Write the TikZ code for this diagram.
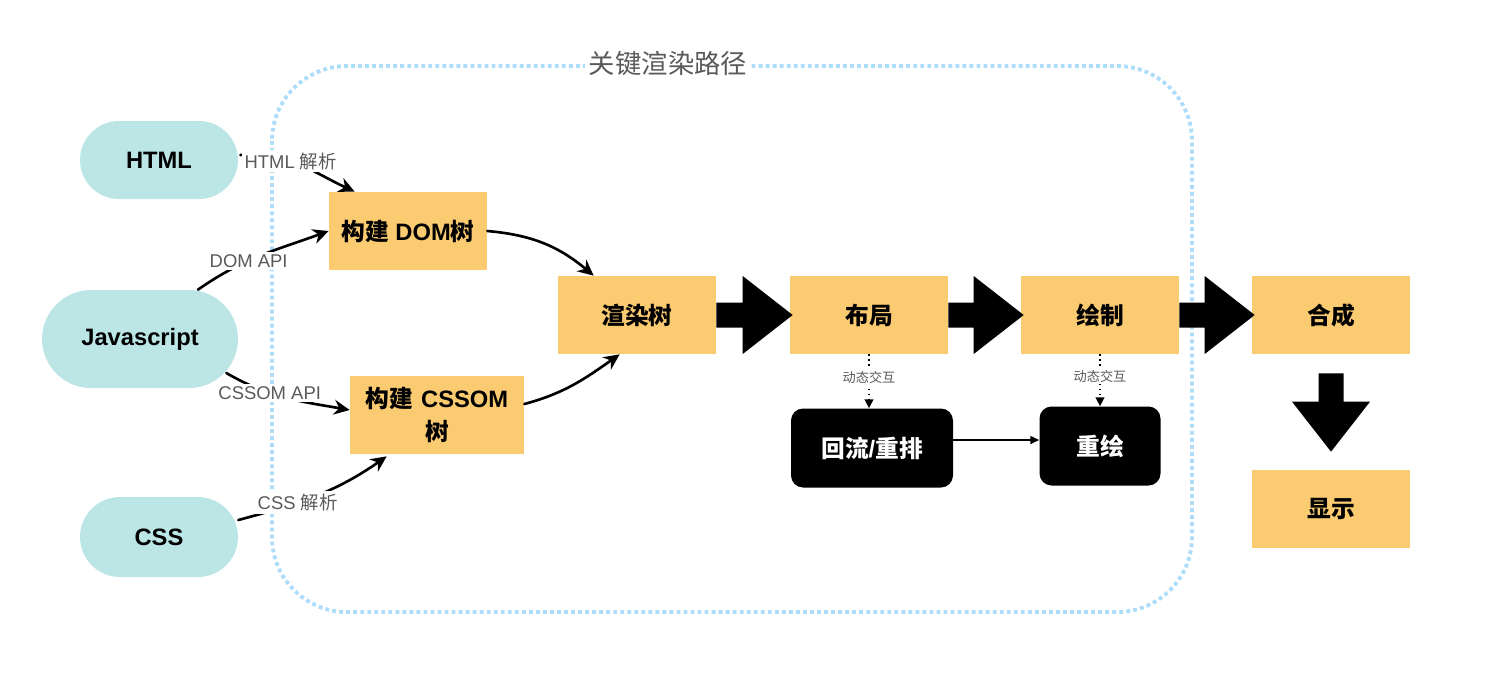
\documentclass[tikz,border=0pt]{standalone}
\usepackage{fontspec}
\setmainfont{Liberation Sans}
\newfontfamily\cjk{Noto Sans CJK SC}
\definecolor{srcteal}{RGB}{188, 230, 230}
\definecolor{stepyellow}{RGB}{251, 203, 113}
\definecolor{pathblue}{RGB}{173, 221, 251}
\definecolor{labelgray}{RGB}{90, 90, 90}
\usetikzlibrary{arrows.meta, positioning, calc, shapes.misc}

\newcommand{\blockarrow}[2]{%
  \fill ($(#1.east)+(0,12.5)$) -- ($(#2.west)+(-47,12.5)$) -- ($(#2.west)+(-47,39)$)
    -- ($(#2.west)+(3,0)$) -- ($(#2.west)+(-47,-39)$) -- ($(#2.west)+(-47,-12.5)$)
    -- ($(#1.east)+(0,-12.5)$) -- cycle;}

\begin{document}
\begin{tikzpicture}[x=0.02cm, y=0.02cm,
  srcnode/.style={rounded rectangle, fill=srcteal, inner sep=0pt, font=\fontsize{13.5}{16}\selectfont\bfseries},
  stepbox/.style={rectangle, fill=stepyellow, minimum width=3.16cm, minimum height=1.56cm, inner sep=2pt, align=center, font=\fontsize{13.5}{19}\selectfont\bfseries},
  darkbox/.style={rectangle, fill=black, text=white, rounded corners=0.24cm, minimum height=1.58cm, font=\fontsize{13.5}{16}\selectfont\bfseries},
  sketch/.style={line width=1.5pt, line cap=round, -{Stealth[length=9pt, width=8.5pt]}},
  edgelabel/.style={fill=white, text=labelgray, inner sep=1.5pt, font=\fontsize{10.5}{12}\selectfont},
  hintlabel/.style={fill=white, text=labelgray, inner sep=1pt, font=\fontsize{7.5}{9}\selectfont\cjk},
  hint/.style={dotted, line width=0.8pt, -{Triangle[length=5pt, width=5pt]}}]
  \useasboundingbox (0,0) rectangle (1496,-684);

  % critical rendering path frame
  \draw[pathblue, line width=2.2pt, dash pattern=on 2.2pt off 1.8pt, rounded corners=1.5cm] (272,-66) rectangle (1192,-612);
  \node[fill=white, text=labelgray, inner sep=2pt, font=\fontsize{15}{17}\selectfont\cjk] (crp) at (668,-64) {关键渲染路径};

  % sources
  \node[srcnode, minimum width=3.16cm, minimum height=1.56cm] (html) at (159,-160) {HTML};
  \node[srcnode, minimum width=3.92cm, minimum height=1.96cm] (js) at (140,-339) {Javascript};
  \node[srcnode, minimum width=3.16cm, minimum height=1.60cm] (css) at (159,-537) {CSS};

  % trees
  \node[stepbox] (dom) at (408,-231) {{\cjk 构建} DOM{\cjk 树}};
  \node[stepbox, minimum width=3.48cm, text width=3.3cm] (cssom) at (437,-415) {{\cjk 构建} CSSOM\\{\cjk 树}};
  \node[stepbox, font=\fontsize{13.5}{16}\selectfont\bfseries\cjk] (render) at (637,-315) {渲染树};

  % pipeline
  \node[stepbox, font=\fontsize{13.5}{16}\selectfont\bfseries\cjk] (layout) at (869,-315) {布局};
  \node[stepbox, font=\fontsize{13.5}{16}\selectfont\bfseries\cjk] (paint) at (1100,-315) {绘制};
  \node[stepbox, font=\fontsize{13.5}{16}\selectfont\bfseries\cjk] (compose) at (1331,-315) {合成};
  \node[stepbox, font=\fontsize{13.5}{16}\selectfont\bfseries\cjk] (display) at (1331,-509) {显示};

  \node[darkbox, minimum width=3.24cm] (reflow) at (872,-448) {{\cjk 回流}/{\cjk 重排}};
  \node[darkbox, minimum width=2.42cm, font=\fontsize{13.5}{16}\selectfont\bfseries\cjk] (repaint) at (1100,-446) {重绘};

  % sketchy inputs
  \draw[sketch] ($(html.east)+(2,5)$) to[out=5, in=155] node[edgelabel, pos=0.42] {HTML {\cjk 解析}} ($(dom.north west)+(26,0)$);
  \draw[sketch] ($(js.north)+(58,0)$) to[out=35, in=200] node[edgelabel, pos=0.4] {DOM API} (dom.west);
  \draw[sketch] ($(js.east)+(-12,-34)$) to[out=-30, in=170] node[edgelabel, pos=0.36] {CSSOM API} ($(cssom.west)+(0,5)$);
  \draw[sketch] ($(css.east)+(0,17)$) to[out=15, in=215] node[edgelabel, pos=0.37] {CSS {\cjk 解析}} ($(cssom.south west)+(37,-2)$);
  \draw[sketch] (dom.east) to[out=-5, in=140] ($(render.north west)+(36,0)$);
  \draw[sketch] ($(cssom.east)+(0,11)$) to[out=15, in=215] ($(render.south west)+(62,0)$);

  % main flow
  \blockarrow{render}{layout}
  \blockarrow{layout}{paint}
  \blockarrow{paint}{compose}
  \fill ($(compose.south)+(-12.5,-19)$) -- ($(compose.south)+(12.5,-19)$) -- ($(display.north)+(12.5,68)$)
    -- ($(display.north)+(39,68)$) -- ($(display.north)+(0,18)$) -- ($(display.north)+(-39,68)$)
    -- ($(display.north)+(-12.5,68)$) -- cycle;

  % interaction
  \draw[hint] (layout.south) -- node[hintlabel, pos=0.42] {动态交互} (layout.south |- reflow.north);
  \draw[hint] (paint.south) -- node[hintlabel, pos=0.42] {动态交互} (paint.south |- repaint.north);
  \coordinate (reflowout) at ($(reflow.east)+(0,8)$);
  \draw[line width=0.8pt, -{Triangle[length=5pt, width=4.5pt]}] (reflowout) -- (reflowout -| repaint.west);
\end{tikzpicture}
\end{document}
